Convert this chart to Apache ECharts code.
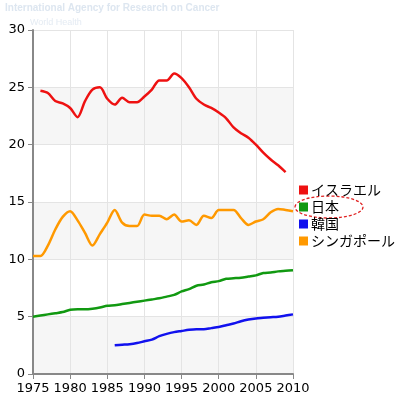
<!DOCTYPE html>
<html>
<head>
<meta charset="utf-8">
<script src="https://cdn.jsdelivr.net/npm/echarts@6/dist/echarts.min.js"></script>
<style>body{margin:0;background:#fff}#c{width:400px;height:404px}</style>
</head>
<body>
<div id="c"></div>
<script>
var names = ['イスラエル', '日本', '韓国', 'シンガポール'];
var colors = ['#ee1111', '#119911', '#1111ee', '#ff9900'];
var israelStart = 1976;
var israel = [24.7,24.5,23.8,23.6,23.2,22.4,23.8,24.8,25.0,24.0,23.5,24.1,23.7,23.7,24.2,24.8,25.6,25.6,26.2,25.8,25.0,24.0,23.5,23.2,22.8,22.3,21.5,21.0,20.6,20.0,19.3,18.7,18.2,17.6];
var japanStart = 1975;
var japan = [5.0,5.1,5.2,5.3,5.4,5.6,5.65,5.65,5.7,5.8,5.95,6.0,6.1,6.2,6.3,6.4,6.5,6.6,6.75,6.9,7.2,7.4,7.7,7.8,8.0,8.1,8.3,8.35,8.4,8.5,8.6,8.8,8.85,8.95,9.0,9.05];
var koreaStart = 1986;
var korea = [2.5,2.55,2.6,2.7,2.85,3.0,3.3,3.5,3.65,3.75,3.85,3.9,3.9,4.0,4.1,4.25,4.4,4.6,4.75,4.85,4.9,4.95,5.0,5.1,5.2];
var singaporeStart = 1975;
var singapore = [10.3,10.3,11.2,12.6,13.7,14.2,13.4,12.3,11.2,12.2,13.2,14.3,13.2,12.9,12.9,13.9,13.8,13.8,13.5,13.9,13.3,13.4,13.0,13.8,13.6,14.3,14.3,14.3,13.6,13.0,13.3,13.5,14.1,14.4,14.3,14.2];

function pairs(start, arr) {
  return arr.map(function (v, i) { return [start + i, v]; });
}
var seriesData = [pairs(israelStart, israel), pairs(japanStart, japan), pairs(koreaStart, korea), pairs(singaporeStart, singapore)];

var chart = echarts.init(document.getElementById('c'));
chart.setOption({
  animation: false,
  grid: { left: 33, top: 30, width: 260, height: 344 },
  xAxis: {
    type: 'value', min: 1975, max: 2010, interval: 5,
    axisLine: { lineStyle: { color: '#888', width: 2 } },
    axisTick: { show: true, lineStyle: { color: '#888' } },
    axisLabel: { color: '#000', fontSize: 13, fontFamily: 'DejaVu Sans', formatter: function (v) { return String(v); } },
    splitLine: { show: true, lineStyle: { color: '#e4e4e4' } }
  },
  yAxis: {
    type: 'value', min: 0, max: 30, interval: 5,
    axisLine: { show: true, lineStyle: { color: '#888', width: 2 } },
    axisTick: { show: true, lineStyle: { color: '#888' } },
    axisLabel: { color: '#000', fontSize: 13, fontFamily: 'DejaVu Sans' },
    splitLine: { show: true, lineStyle: { color: '#e4e4e4' } },
    splitArea: { show: true, areaStyle: { color: ['#f6f6f6', '#ffffff'] } }
  },
  legend: {
    orient: 'vertical', left: 294, top: 178, itemGap: 3,
    itemWidth: 9, itemHeight: 9, icon: 'rect',
    textStyle: { fontSize: 14, color: '#000', fontFamily: 'Noto Sans CJK JP', padding: [0, 0, 0, -2] },
    data: names
  },
  graphic: [
    { type: 'text', left: 5, top: 3, style: { text: 'International Agency for Research on Cancer', fill: '#dde6f0', fontSize: 10, fontWeight: 'bold', fontFamily: 'Liberation Sans' } },
    { type: 'text', left: 30, top: 18, style: { text: 'World Health', fill: '#e4ebf3', fontSize: 9, fontFamily: 'Liberation Sans' } },
    { type: 'ellipse', shape: { cx: 329, cy: 207, rx: 34, ry: 11 }, style: { fill: 'none', stroke: '#e02020', lineWidth: 1.3, lineDash: [3, 2] } }
  ],
  series: names.map(function (n, i) {
    return {
      name: n, type: 'line', data: seriesData[i], showSymbol: false, smooth: 0.3,
      itemStyle: { color: colors[i] },
      lineStyle: { color: colors[i], width: 2.5 }
    };
  })
});
</script>
</body>
</html>
